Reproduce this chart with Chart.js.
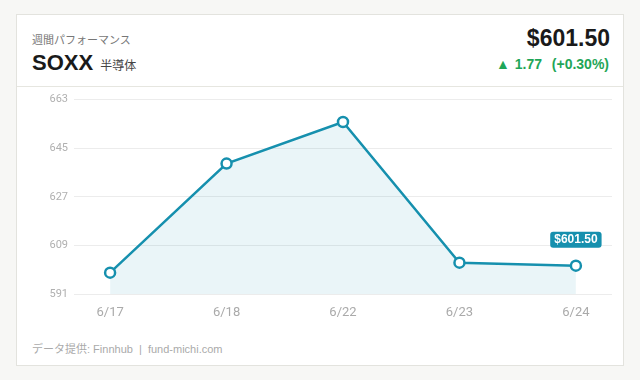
<!DOCTYPE html>
<html lang="ja">
<head>
    <meta charset="UTF-8">
    <title>SOXX 週間パフォーマンス</title>
    <script src="https://cdn.jsdelivr.net/npm/chart.js"></script>
    <style>
        html, body { margin: 0; padding: 0; }
        body {
            width: 640px; height: 380px;
            background: #f7f7f5;
            font-family: "Noto Sans CJK JP", "Noto Sans", sans-serif;
            position: relative;
            overflow: hidden;
        }
        .card {
            position: absolute; left: 16px; top: 14px;
            width: 606px; height: 350px;
            background: #fff;
            border: 1px solid #e3e3de;
        }
        .head {
            position: absolute; left: 0; top: 0; right: 0; height: 71px;
            border-bottom: 1px solid #e6e6e0;
        }
        .sub { position: absolute; left: 15px; top: 16px; font-size: 11px; color: #777; }
        .ticker { position: absolute; left: 15px; top: 35px; font-family: "Liberation Sans", Arial, sans-serif; font-weight: bold; font-size: 22px; color: #1a1a1a; }
        .ticker span { font-family: "Noto Sans CJK JP", sans-serif; font-weight: normal; font-size: 12px; color: #444; margin-left: 1px; }
        .price { position: absolute; right: 13px; top: 10px; font-family: "Liberation Sans", Arial, sans-serif; font-weight: bold; font-size: 23px; color: #1a1a1a; }
        .chg { position: absolute; right: 14px; top: 41px; font-family: "Liberation Sans", Arial, sans-serif; font-weight: bold; font-size: 14px; color: #1fa658; word-spacing: 1px; }
        .foot { position: absolute; left: 15px; top: 325px; font-family: "Liberation Sans", "Noto Sans CJK JP", sans-serif; font-size: 11px; color: #aaa; }
        #chartBox { position: absolute; left: 20px; top: 87px; width: 600px; height: 233px; }
    </style>
</head>
<body>
    <div class="card">
        <div class="head">
            <div class="sub">週間パフォーマンス</div>
            <div class="ticker">SOXX <span>半導体</span></div>
            <div class="price">$601.50</div>
            <div class="chg">▲ 1.77 &nbsp;(+0.30%)</div>
        </div>
        <div class="foot">データ提供: Finnhub &nbsp;| &nbsp;fund-michi.com</div>
    </div>
    <div id="chartBox"><canvas id="perfChart"></canvas></div>

    <script>
        // 日付ラベルと終値
        const dates = ['6/17', '6/18', '6/22', '6/23', '6/24'];
        const closes = [598.9, 639.3, 654.7, 602.6, 601.5];
        const yTicks = [591, 609, 627, 645, 663];

        const lineColor = '#1690ae';

        // 最後の点の上に価格タグを描く
        const priceTag = {
            id: 'priceTag',
            afterDatasetsDraw(chart) {
                const meta = chart.getDatasetMeta(0);
                const pt = meta.data[meta.data.length - 1];
                const text = '$' + closes[closes.length - 1].toFixed(2);
                const ctx = chart.ctx;
                ctx.save();
                ctx.font = 'bold 12px "Liberation Sans", Arial, sans-serif';
                const w = ctx.measureText(text).width + 8;
                const h = 16;
                const x = pt.x - w / 2;
                const y = pt.y - 34;
                ctx.fillStyle = lineColor;
                ctx.beginPath();
                ctx.roundRect(x, y, w, h, 3);
                ctx.fill();
                ctx.fillStyle = '#fff';
                ctx.textAlign = 'center';
                ctx.textBaseline = 'middle';
                ctx.fillText(text, pt.x, y + h / 2 + 0.5);
                ctx.restore();
            }
        };

        const ctx = document.getElementById('perfChart').getContext('2d');
        new Chart(ctx, {
            type: 'line',
            data: {
                datasets: [{
                    data: closes.map((v, i) => ({ x: i, y: v })),
                    borderColor: lineColor,
                    borderWidth: 2.5,
                    backgroundColor: 'rgba(22, 144, 174, 0.09)',
                    fill: 'start',
                    tension: 0,
                    pointRadius: 5,
                    pointBorderWidth: 2.5,
                    pointBackgroundColor: '#fff',
                    pointBorderColor: lineColor
                }]
            },
            options: {
                responsive: true,
                maintainAspectRatio: false,
                animation: false,
                layout: { padding: { top: 8, right: 8, left: 0, bottom: 0 } },
                plugins: { legend: { display: false }, tooltip: { enabled: false } },
                scales: {
                    x: {
                        type: 'linear',
                        min: -0.31,
                        max: 4.31,
                        afterBuildTicks: (scale) => { scale.ticks = dates.map((_, i) => ({ value: i })); },
                        afterFit: (scale) => { scale.height = 26; },
                        grid: { display: false },
                        border: { display: false },
                        ticks: {
                            callback: (v) => dates[v],
                            color: '#aaa',
                            padding: 3,
                            font: { size: 13, family: 'Roboto, "Noto Sans", sans-serif' },
                            maxRotation: 0
                        }
                    },
                    y: {
                        min: yTicks[0],
                        max: yTicks[yTicks.length - 1],
                        afterBuildTicks: (scale) => { scale.ticks = yTicks.map(v => ({ value: v })); },
                        afterFit: (scale) => { scale.width = 54; },
                        grid: { color: '#ececec', drawTicks: false },
                        border: { display: false },
                        ticks: {
                            color: '#b0b0b0',
                            padding: 6,
                            font: { size: 11, family: 'Roboto, "Noto Sans", sans-serif' }
                        }
                    }
                }
            },
            plugins: [priceTag]
        });
    </script>
</body>
</html>
